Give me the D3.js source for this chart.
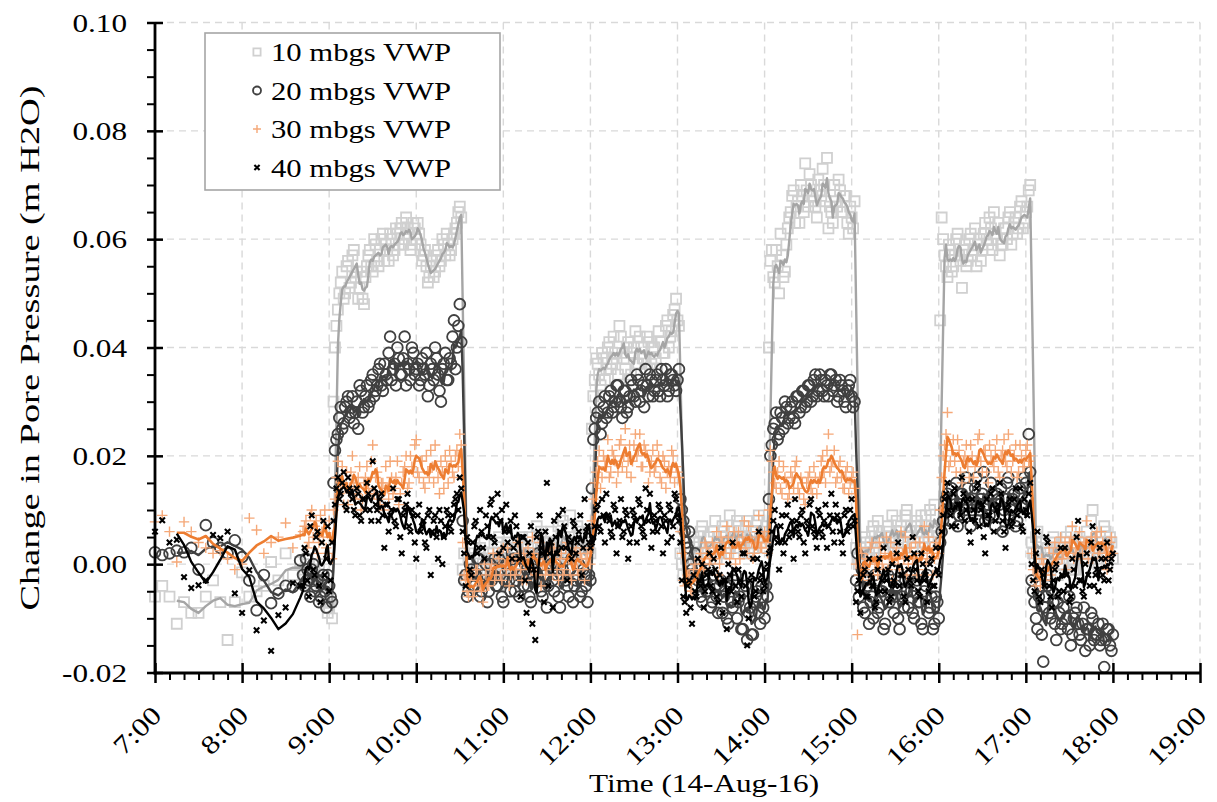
<!DOCTYPE html>
<html>
<head>
<meta charset="utf-8">
<script src="https://cdn.jsdelivr.net/npm/d3@7"></script>
<style>
body { margin: 0; background: #fff; }
text { font-family: "Liberation Serif", "Times New Roman", serif; fill: #000; }
</style>
</head>
<body>
<svg id="chart" width="1217" height="802"></svg>
<script>
// times are minutes after 7:00 on 14-Aug-16
// logger read every 5 min early in the day, every minute from 8:42 on
// (the dense part is kept as two arrays: even minutes and odd minutes)
var earlyStart = 0, earlyStep = 5;
var evenStart = 102, oddStart = 103, denseStep = 2;

var seriesNames = ["10 mbgs VWP", "20 mbgs VWP", "30 mbgs VWP", "40 mbgs VWP"];
var hourLabels = ["7:00", "8:00", "9:00", "10:00", "11:00", "12:00", "13:00",
                  "14:00", "15:00", "16:00", "17:00", "18:00", "19:00"];
var yTicks = [-0.02, 0.00, 0.02, 0.04, 0.06, 0.08, 0.10];

// 7:00 - 8:40
var vwp10Early = [-.006, -.004, -.006, -.011, -.007, -.009, -.009, -.006, -.003, -.007, -.014,
                  -.007, -.0015, -.006, -.005, -.004, .0004, -.003, .002, -.002, .0004];
var vwp20Early = [.0022, .0017, .002, .0025, .0022, .003, -.001, .0072, .004, .003, .002,
                  .0044, .0013, -.003, -.0085, -.002, -.0072, -.0054, -.004, -.0042, .0007];
var vwp30Early = [.0078, .009, .006, .0004, .0078, .006, .004, .003, .002, .0025, .001,
                  -.001, .000, .0085, .0063, .002, .004, .005, .0076, .003, .0054];
var vwp40Early = [.006, .0081, .004, .0045, -.0024, -.0044, -.0039, -.003, .0054, .0048, .006,
                  -.0054, -.009, -.0011, -.0122, -.0104, -.016, -.0094, -.008, -.0035, -.004];

// 8:42 - 18:00, even minutes
var vwp10Even = [
  -.001, .000, -.002, -.004, -.001, -.003, -.005, -.002, -.006, -.008, -.010,
  .040, .047, .052, .049, .055, .051, .057, .053, .049, .054,
  .048, .055, .058, .054, .059, .055, .060, .056, .058, .061,
  .057, .062, .059, .063, .060, .062, .058, .063, .060, .061,
  .056, .058, .052, .055, .053, .057, .055, .060, .057, .059,
  .058, .061, .063, .066,
  -.001, -.003, .001, -.002, .002, -.001, .003, .000, -.003, .002,
  .001, -.002, .004, .001, -.001, .003, .000, .002, -.002, .004,
  .001, .003, -.001, .005, .002, .000, .003, .006, .001, .002,
  .004, -.001, .003, .007, .002, .005, .001, .009, .004, .002,
  .006, .003, .001, .004, .002,
  .031, .038, .035, .039, .034, .040, .036, .042, .038, .044,
  .039, .036, .041, .035, .040, .037, .042, .038, .036, .041,
  .037, .040, .036, .041, .039, .044, .040, .043, .047, .045,
  .002, -.002, .001, .003, .000, .004, .002, .006, .003, .001,
  .005, .003, .008, .004, .002, .006, .003, .009, .005, .003,
  .007, .004, .002, .008, .005, .003, .006, .009, .004, .006,
  .005,
  .056, .053, .058, .050, .057, .054, .062, .065, .069, .066,
  .063, .068, .074, .066, .070, .067, .064, .069, .073, .067,
  .062, .065, .070, .066, .069, .065, .068, .061, .064, .067,
  .001, .003, -.001, .004, .002, .006, .003, .008, .005, .002,
  .006, .004, .009, .005, .003, .007, .004, .010, .006, .003,
  .007, .005, .009, .004, .006, .010, .005, .007, .004,
  .064, .057, .053, .058, .055, .060, .057, .051, .059, .056,
  .061, .058, .055, .060, .058, .063, .059, .062, .065, .060,
  .057, .059, .062, .064, .059, .063, .061, .066, .062, .065,
  .069,
  .004, .001, .006, .002, -.001, .003, .000, .004, .002, -.002,
  .003, .001, .005, .000, .003, -.001, .002, .004, .001, .006,
  .002, .010, .003, .000, .004, .007, .002, .005, .001
];
var vwp20Even = [
  -.002, .001, -.003, -.001, -.005, -.003, -.006, -.002, -.008, -.004, -.007,
  .021, .024, .029, .026, .030, .027, .031, .028, .025, .032,
  .029, .033, .030, .035, .032, .036, .033, .037, .034, .042,
  .036, .033, .038, .035, .042, .037, .034, .039, .036, .033,
  .038, .035, .031, .037, .034, .038, .032, .036, .039, .034,
  .037, .045, .040, .048,
  .008, -.002, -.005, -.001, -.004, .001, -.006, -.002, .000, -.005,
  -.003, .001, -.004, -.001, -.007, .000, -.003, .002, -.005, -.002,
  .001, -.004, -.001, -.006, .000, -.003, .002, -.005, -.002, -.008,
  .001, -.003, .000, -.006, -.002, .002, -.004, -.001, -.007, -.003,
  .000, -.005, -.002, -.007, -.003,
  .023, .027, .030, .026, .031, .028, .032, .029, .033, .030,
  .027, .032, .029, .034, .031, .035, .030, .033, .036, .031,
  .034, .032, .035, .031, .034, .036, .032, .035, .033, .034,
  .012, .008, .004, .006, -.001, .002, -.003, -.006, -.002, -.005,
  -.001, -.007, -.004, -.009, -.003, -.006, -.010, -.004, -.008, -.002,
  -.007, -.012, -.005, -.014, -.008, -.013, -.006, -.009, -.004, -.010,
  -.006,
  .020, .025, .028, .024, .027, .030, .026, .029, .027, .031,
  .028, .032, .029, .033, .030, .034, .031, .035, .032, .034,
  .031, .035, .033, .030, .034, .032, .029, .033, .031, .030,
  .002, -.004, -.008, -.003, -.011, -.006, -.002, -.009, -.005, -.012,
  -.004, -.007, -.001, -.006, -.010, -.003, -.008, -.005, -.002, -.009,
  -.004, -.007, -.011, -.005, -.002, -.008, -.012, -.006, -.010,
  .006, .010, .013, .008, .012, .015, .009, .013, .010, .014,
  .007, .011, .016, .010, .013, .008, .012, .015, .009, .013,
  .011, .006, .012, .016, .010, .013, .008, .014, .011, .015,
  .024,
  -.003, -.007, -.012, -.004, -.018, -.006, -.009, -.005, -.011, -.007,
  -.012, -.008, -.010, -.006, -.013, -.009, -.011, -.014, -.008, -.012,
  -.015, -.010, -.013, -.011, -.014, -.019, -.012, -.015, -.013
];
var vwp30Even = [
  .006, .008, .004, .010, .007, .002, .009, .005, .003, .008, .001,
  .012, .019, .015, .011, .017, .014, .020, .012, .016, .010,
  .015, .018, .013, .022, .016, .012, .015, .010, .014, .019,
  .013, .016, .011, .015, .018, .014, .020, .017, .023, .016,
  .019, .014, .017, .021, .015, .018, .013, .017, .020, .015,
  .019, .016, .021, .024,
  .004, -.003, -.006, -.002, -.005, -.001, -.004, -.007, -.002, -.004,
  .000, -.003, .002, -.002, .003, -.001, -.004, .001, -.002, .004,
  -.001, .002, -.003, .000, .005, -.002, .001, -.004, .002, -.001,
  .003, -.002, .001, -.003, .002, -.001, .004, -.002, .000, .003,
  -.002, .001, -.003, .002, .000,
  .012, .017, .021, .016, .019, .023, .017, .020, .015, .022,
  .018, .025, .019, .016, .022, .020, .024, .018, .021, .015,
  .019, .017, .022, .016, .020, .014, .018, .021, .015, .017,
  .006, -.003, -.006, -.002, -.005, .000, -.003, .002, -.001, .003,
  .000, .004, .001, -.002, .005, .002, .007, .001, .004, .000,
  .006, .003, .008, .002, .005, .001, .004, .009, .003, .006,
  .002,
  .021, .017, .014, .019, .013, .016, .012, .017, .014, .019,
  .013, .015, .011, .016, .014, .018, .013, .016, .020, .015,
  .024, .018, .021, .016, .019, .014, .017, .013, .016, .014,
  -.013, .003, -.002, .001, -.003, .004, .000, -.002, .003, -.001,
  .005, .001, -.003, .002, .000, .006, .001, -.002, .003, .000,
  .004, -.001, .002, .007, .001, .003, -.002, .004, .002,
  .016, .022, .028, .019, .023, .017, .021, .015, .020, .018,
  .022, .016, .019, .024, .017, .021, .015, .020, .018, .023,
  .016, .021, .019, .024, .017, .020, .016, .022, .018, .021,
  .019,
  .002, -.003, -.001, -.004, .000, -.002, .003, -.001, .004, .001,
  .005, .002, -.001, .004, .007, .002, .005, .001, .004, .008,
  .003, .001, .005, .002, .006, .003, -.001, .004, .002
];
var vwp40Even = [
  -.004, .002, -.006, .009, -.002, .006, -.007, .008, .001, -.005, .004,
  .011, .016, .013, .017, .010, .014, .012, .009, .013, .008,
  .012, .015, .010, .019, .011, .008, .013, .003, .011, .009,
  .014, .007, .012, .002, .010, .013, .006, .009, .001, .011,
  .007, .004, .009, -.002, .008, .005, .010, .000, .007, .009,
  .006, .011, .013, .016,
  .006, -.004, .004, -.002, .007, .002, .010, .003, .009, .005,
  .012, .004, .013, .008, .003, .011, .006, .001, .009, .004,
  -.006, .005, -.009, .002, -.011, -.014, .006, .003, -.007, .015,
  .002, -.008, .005, .009, .003, .007, -.003, .004, .008, .002,
  .006, -.002, .012, .007, .003,
  .005, .010, .007, .012, .004, .009, .006, .011, .002, .008,
  .005, .010, .001, .007, .009, .004, .011, .006, .014, .008,
  .003, .009, .006, .010, .002, .008, .011, .005, .013, .009,
  .004, -.006, -.009, -.003, -.011, -.005, .001, -.004, -.008, -.002,
  .002, -.005, -.001, -.007, .003, -.003, -.012, -.002, .004, -.004,
  -.001, -.006, .002, -.015, -.003, .001, -.005, .006, -.002, -.004,
  .000,
  .003, .008, .005, -.001, .009, .004, .011, .006, .001, .008,
  .005, .010, .002, .007, .012, .006, .003, .009, .005, .011,
  .007, .013, .004, .009, .006, .002, .010, .007, .012, .008,
  -.005, -.009, -.002, -.006, .001, -.004, -.008, -.001, -.005, .003,
  -.003, -.007, .000, -.004, .004, -.002, -.006, .001, -.003, .005,
  -.001, -.005, .002, -.003, -.007, .000, -.004, .003, -.002,
  .006, .012, .015, .009, .013, .007, .011, .016, .008, .012,
  .004, .010, .014, .007, .011, .002, .009, .013, .006, .010,
  .015, .008, .003, .011, .007, .012, .009, .014, .006, .010,
  .013,
  .000, -.005, .006, -.007, -.002, .005, -.004, -.008, -.001, -.006,
  .003, -.005, -.002, -.007, .001, -.004, .008, -.003, -.006, .002,
  -.004, .007, -.002, -.005, .001, -.003, .004, -.001, .002
];

// 8:43 - 17:59, odd minutes
var vwp10Odd = [
  -.002, .001, -.003, -.002, -.004, .000, -.006, -.004, -.009, -.007,
  .030,
  .044, .050, .054, .050, .056, .052, .058, .054, .051, .049,
  .053, .057, .055, .060, .056, .058, .061, .059, .056, .060,
  .058, .061, .062, .059, .064, .061, .059, .062, .063, .059,
  .057, .055, .053, .056, .054, .058, .056, .059, .061, .057,
  .060, .062, .065, .064,
  .002, -.002, .000, .003, -.003, .001, -.001, .004, .001, -.002,
  .002, .000, .005, -.001, .002, .004, -.002, .001, .003, .000,
  .005, .002, -.001, .003, .001, .007, .002, .004, -.001, .003,
  .006, .002, .000, .004, .008, .003, .001, .005, .002, .007,
  .003, .000, .005, .003,
  .025,
  .034, .037, .033, .038, .036, .041, .037, .039, .035, .042,
  .038, .040, .034, .039, .043, .037, .040, .038, .042, .036,
  .040, .038, .043, .041, .039, .045, .042, .046, .049, .044,
  .000, .003, -.001, .002, .005, .001, .004, .007, .002, .005,
  .003, .006, .001, .004, .007, .005, .002, .006, .004, .008,
  .003, .005, .007, .002, .006, .004, .008, .005, .003, .007,
  .040,
  .058, .052, .055, .061, .053, .059, .064, .068, .063, .067,
  .070, .065, .069, .072, .068, .066, .071, .068, .070, .075,
  .066, .063, .067, .071, .065, .068, .063, .066, .062,
  .003, .000, .002, .005, .001, .004, .007, .003, .006, .004,
  .002, .007, .005, .003, .008, .006, .004, .009, .005, .007,
  .004, .008, .006, .003, .009, .005, .007, .011, .006,
  .045,
  .060, .055, .059, .054, .057, .061, .056, .058, .055, .060,
  .057, .062, .059, .056, .061, .060, .064, .058, .061, .063,
  .059, .062, .060, .065, .061, .064, .062, .067, .063, .066,
  .070,
  .002, .005, .000, .004, .001, .003, -.002, .005, .001, .003,
  .000, .004, .002, .006, -.001, .003, .005, .001, .004, .002,
  .008, .003, .001, .005, .002, .006, .003, .004
];
var vwp20Odd = [
  -.004, -.001, -.006, .000, -.004, -.007, -.003, -.005, -.002, -.006,
  .015,
  .023, .027, .025, .029, .031, .028, .026, .030, .033, .028,
  .031, .029, .034, .031, .033, .037, .032, .035, .039, .034,
  .037, .040, .035, .038, .033, .036, .040, .035, .037, .034,
  .036, .039, .033, .036, .040, .035, .030, .037, .034, .038,
  .042, .036, .044, .041,
  -.003, -.006, .000, -.004, -.002, .001, -.005, -.003, -.007, .000,
  -.002, -.004, .001, -.006, -.003, -.001, -.005, .001, -.003, -.006,
  -.002, .000, -.004, -.007, -.001, -.003, .001, -.006, -.002, -.004,
  .000, -.005, -.002, -.008, -.001, -.003, -.006, .001, -.004, -.002,
  -.006, -.001, -.004, -.002,
  .014,
  .025, .028, .024, .029, .027, .031, .028, .030, .033, .029,
  .032, .028, .031, .033, .030, .034, .032, .029, .033, .035,
  .031, .034, .032, .036, .033, .031, .035, .034, .032, .036,
  .010, .006, .003, .000, -.002, -.004, -.001, -.007, -.003, -.005,
  -.008, -.002, -.006, -.004, -.009, -.005, -.011, -.007, -.003, -.010,
  -.006, -.012, -.004, -.009, -.013, -.007, -.005, -.011, -.008, -.004,
  .012,
  .022, .026, .023, .028, .025, .029, .027, .030, .026, .031,
  .029, .032, .030, .033, .031, .035, .032, .034, .031, .033,
  .035, .032, .034, .031, .033, .030, .032, .034, .029,
  -.003, -.006, -.001, -.009, -.004, -.007, -.010, -.003, -.008, -.005,
  -.011, -.002, -.006, -.009, -.004, -.012, -.006, -.003, -.008, -.005,
  -.010, -.003, -.007, -.012, -.004, -.009, -.006, -.011, -.007,
  .004,
  .008, .012, .010, .014, .011, .007, .013, .009, .016, .012,
  .010, .014, .008, .012, .017, .011, .009, .013, .007, .012,
  .014, .010, .015, .009, .012, .007, .013, .011, .016, .012,
  .017,
  -.005, -.010, -.006, -.013, -.008, -.004, -.010, -.007, -.014, -.009,
  -.011, -.006, -.012, -.015, -.010, -.008, -.013, -.011, -.016, -.012,
  -.009, -.014, -.013, -.015, -.011, -.014, -.012, -.016
];
var vwp30Odd = [
  .007, .003, .009, .005, .008, .004, .006, .010, .002, .005,
  .010,
  .016, .013, .018, .014, .011, .017, .015, .013, .018, .012,
  .016, .014, .019, .013, .017, .011, .015, .018, .012, .016,
  .014, .019, .013, .017, .020, .015, .018, .022, .017, .019,
  .015, .020, .016, .018, .022, .016, .019, .014, .018, .021,
  .017, .020, .018, .022,
  -.002, -.005, -.003, -.006, -.001, -.003, -.005, .000, -.004, -.001,
  .002, -.002, .001, -.003, .000, .003, -.002, .001, -.001, .002,
  -.003, .001, .003, -.001, .002, -.002, .004, .000, -.002, .002,
  .000, .003, -.001, .001, -.002, .003, .001, -.003, .002, -.001,
  .002, -.001, .001, .003,
  .008,
  .015, .019, .014, .020, .018, .016, .021, .019, .017, .023,
  .020, .017, .022, .019, .024, .021, .018, .022, .020, .017,
  .021, .018, .020, .015, .019, .017, .016, .020, .018, .016,
  .002, -.004, -.002, -.005, -.001, -.003, .001, .000, .004, .002,
  .001, .003, .006, .000, .004, .003, .005, .002, .006, .004,
  .001, .005, .003, .007, .004, .002, .006, .003, .005, .004,
  .010,
  .019, .015, .017, .014, .018, .015, .013, .016, .018, .014,
  .016, .012, .015, .017, .013, .016, .015, .019, .017, .021,
  .017, .019, .015, .018, .016, .014, .018, .015, .017,
  .000, -.002, .002, -.001, .001, .003, -.002, .001, .004, .000,
  .002, -.001, .004, .001, .003, -.001, .002, .005, .000, .003,
  .001, -.002, .004, .002, .000, .005, .002, .001, .003,
  .010,
  .020, .024, .018, .021, .019, .023, .017, .019, .022, .016,
  .020, .018, .023, .019, .021, .017, .022, .019, .021, .017,
  .020, .023, .018, .021, .019, .022, .017, .020, .018, .022,
  .020,
  -.001, -.004, -.002, .001, -.003, .000, -.002, .002, .000, .003,
  .001, .004, .002, .005, .001, .003, .006, .002, .004, .001,
  .005, .003, .006, .002, .004, .001, .003, .005
];
var vwp40Odd = [
  .003, -.003, .007, -.001, .005, -.004, .004, -.002, .007, -.003,
  .008,
  .014, .012, .015, .011, .016, .013, .010, .014, .009, .012,
  .010, .013, .008, .014, .010, .012, .009, .011, .006, .010,
  .008, .012, .005, .009, .011, .007, .010, .004, .009, .006,
  .008, .003, .010, .006, .009, .001, .008, .005, .010, .007,
  .009, .012, .010, .014,
  .002, .005, -.001, .004, .008, .003, .006, .001, .007, .011,
  .005, .009, .002, .010, .006, .004, .008, .003, .007, .001,
  .005, -.003, .004, .007, -.001, .005, .009, .002, .006, -.004,
  .004, .008, .002, .006, .010, .003, .005, .001, .007, .004,
  .009, .003, .006, .004,
  .004,
  .007, .011, .006, .009, .013, .008, .005, .010, .007, .012,
  .006, .009, .004, .010, .008, .012, .007, .005, .010, .013,
  .006, .008, .011, .007, .009, .004, .010, .007, .012, .008,
  -.003, -.007, -.004, -.008, -.002, -.006, -.003, .000, -.005, -.001,
  -.004, .001, -.006, -.002, -.009, -.003, .000, -.005, -.001, -.007,
  -.003, .002, -.004, -.010, -.002, -.006, .001, -.003, -.005, -.001,
  .002,
  .006, .010, .004, .007, .002, .009, .005, .008, .012, .006,
  .009, .004, .008, .011, .007, .005, .010, .006, .008, .003,
  .009, .006, .011, .008, .004, .009, .006, .010, .007,
  -.007, -.003, -.005, -.001, -.006, -.002, -.004, -.007, .001, -.003,
  -.005, -.001, -.006, -.003, .002, -.004, -.002, -.007, -.001, -.004,
  .002, -.003, -.006, .000, -.002, -.005, .001, -.004, -.001,
  .003,
  .009, .013, .010, .007, .014, .011, .009, .013, .010, .006,
  .012, .008, .015, .010, .005, .012, .009, .014, .008, .011,
  .013, .006, .010, .012, .008, .014, .010, .007, .012, .009,
  .015,
  -.003, .002, -.006, -.001, -.004, .004, -.006, -.003, .000, -.005,
  -.002, .003, -.004, -.006, -.001, .005, -.003, -.005, .000, -.002,
  .004, -.004, -.001, .003, -.002, .001, -.003, .001
];

var svg = d3.select("#chart");
var x = d3.scaleLinear().domain([0, 720]).range([155, 1200]);
var y = d3.scaleLinear().domain([-0.02, 0.10]).range([672.5, 22.5]);
var axisY = 673;

function buildPoints(early, even, odd) {
    var pts = [];
    early.forEach(function(v, i) { pts.push({t: earlyStart + i * earlyStep, v: v}); });
    even.forEach(function(v, i) { pts.push({t: evenStart + i * denseStep, v: v}); });
    odd.forEach(function(v, i) { pts.push({t: oddStart + i * denseStep, v: v}); });
    pts.sort(function(a, b) { return a.t - b.t; });
    return pts;
}

// excel style moving-average trendline, period n
function movingAverage(pts, n) {
    var out = [];
    for (var i = n - 1; i < pts.length; i++) {
        var s = 0;
        for (var j = i - n + 1; j <= i; j++) s += pts[j].v;
        out.push({t: pts[i].t, v: s / n});
    }
    return out;
}

// text helper; the reference font sets wider than Times, so stretch along the baseline
function addText(parent, str, tx, ty, rot, anchor, size, k) {
    return parent.append("text")
        .attr("transform", "translate(" + tx + "," + ty + ") rotate(" + rot + ") scale(" + k + ",1)")
        .attr("text-anchor", anchor)
        .attr("font-size", size)
        .text(str);
}

var markerPaths = {
    square: function(s) { return "M" + (-s) + "," + (-s) + "h" + (2 * s) + "v" + (2 * s) + "h" + (-2 * s) + "Z"; },
    circle: function(s) { return "M" + (-s) + ",0a" + s + "," + s + " 0 1,0 " + (2 * s) + ",0a" + s + "," + s + " 0 1,0 " + (-2 * s) + ",0"; },
    plus: function(s) { return "M" + (-s) + ",0H" + s + "M0," + (-s) + "V" + s; },
    cross: function(s) { return "M" + (-s) + "," + (-s) + "L" + s + "," + s + "M" + (-s) + "," + s + "L" + s + "," + (-s); }
};

var series = [
    {name: seriesNames[0], pts: buildPoints(vwp10Early, vwp10Even, vwp10Odd), marker: "square", size: 5, legSize: 3.6,
     mColor: "#d0d0d0", mWidth: 1.8, lColor: "#a5a5a5", lWidth: 2.4},
    {name: seriesNames[1], pts: buildPoints(vwp20Early, vwp20Even, vwp20Odd), marker: "circle", size: 5.4, legSize: 4,
     mColor: "#404040", mWidth: 1.8, lColor: "#404040", lWidth: 2.4},
    {name: seriesNames[2], pts: buildPoints(vwp30Early, vwp30Even, vwp30Odd), marker: "plus", size: 5.2, legSize: 4,
     mColor: "#f5a878", mWidth: 1.4, lColor: "#ed7d31", lWidth: 2.6},
    {name: seriesNames[3], pts: buildPoints(vwp40Early, vwp40Even, vwp40Odd), marker: "cross", size: 2.7, legSize: 2.6,
     mColor: "#000000", mWidth: 2.1, lColor: "#000000", lWidth: 2.4}
];

// gridlines
var grid = svg.append("g");
grid.selectAll(".vg").data(d3.range(60, 721, 60)).join("line")
    .attr("x1", function(d) { return x(d); }).attr("x2", function(d) { return x(d); })
    .attr("y1", y(0.10)).attr("y2", y(-0.02))
    .attr("stroke", "#d9d9d9").attr("stroke-width", 1.4).attr("stroke-dasharray", "7,5");
grid.selectAll(".hg").data(yTicks.slice(1)).join("line")
    .attr("x1", x(0)).attr("x2", x(720))
    .attr("y1", function(d) { return y(d); }).attr("y2", function(d) { return y(d); })
    .attr("stroke", "#d9d9d9").attr("stroke-width", 1.4).attr("stroke-dasharray", "7,5");

// data
var line = d3.line().x(function(d) { return x(d.t); }).y(function(d) { return y(d.v); });
series.forEach(function(s) {
    var g = svg.append("g");
    g.selectAll("path.m").data(s.pts).join("path")
        .attr("class", "m")
        .attr("transform", function(d) { return "translate(" + x(d.t) + "," + y(d.v) + ")"; })
        .attr("d", markerPaths[s.marker](s.size))
        .attr("fill", "none").attr("stroke", s.mColor).attr("stroke-width", s.mWidth);
    g.append("path").datum(movingAverage(s.pts, 4))
        .attr("d", line).attr("fill", "none")
        .attr("stroke", s.lColor).attr("stroke-width", s.lWidth).attr("stroke-linejoin", "round");
});

// y axis
var minorY = d3.range(-0.02, 0.1001, 0.005).filter(function(d) { return Math.abs(d / 0.02 - Math.round(d / 0.02)) > 0.01; });
var yAxisG = svg.append("g").attr("transform", "translate(" + x(0) + ",0)");
yAxisG.append("g").call(d3.axisLeft(y).tickValues(minorY).tickSize(8).tickFormat(""))
    .call(function(g) { g.select(".domain").remove(); g.selectAll("line").attr("stroke-width", 2); });
yAxisG.append("g").call(d3.axisLeft(y).tickValues(yTicks).tickSize(-8).tickFormat(""))
    .call(function(g) { g.select(".domain").remove(); g.selectAll("line").attr("stroke-width", 2.5); });
yAxisG.append("g").call(d3.axisLeft(y).tickValues(yTicks).tickSize(8).tickFormat(""))
    .call(function(g) { g.select(".domain").remove(); g.selectAll("line").attr("stroke-width", 2.5); });
yAxisG.append("line").attr("x1", 0).attr("x2", 0).attr("y1", y(0.10)).attr("y2", axisY + 1.5)
    .attr("stroke", "#000").attr("stroke-width", 2.8);
yTicks.forEach(function(d) {
    addText(yAxisG, d.toFixed(2), -28, y(d) + 9, 0, "end", 26, 1.2);
});

// x axis
var minorX = d3.range(0, 721, 10).filter(function(d) { return d % 60 !== 0; });
var xAxisG = svg.append("g").attr("transform", "translate(0," + axisY + ")");
xAxisG.append("g").call(d3.axisBottom(x).tickValues(minorX).tickSize(7).tickFormat(""))
    .call(function(g) { g.select(".domain").remove(); g.selectAll("line").attr("stroke-width", 2); });
xAxisG.append("g").call(d3.axisBottom(x).tickValues(d3.range(0, 721, 60)).tickSize(-10).tickFormat(""))
    .call(function(g) { g.select(".domain").remove(); g.selectAll("line").attr("stroke-width", 2.5); });
xAxisG.append("g").call(d3.axisBottom(x).tickValues(d3.range(0, 721, 60)).tickSize(10).tickFormat(""))
    .call(function(g) { g.select(".domain").remove(); g.selectAll("line").attr("stroke-width", 2.5); });
xAxisG.append("line").attr("x1", x(0) - 1.4).attr("x2", x(720)).attr("y1", 0).attr("y2", 0)
    .attr("stroke", "#000").attr("stroke-width", 2.8);
hourLabels.forEach(function(d, i) {
    addText(xAxisG, d, x(i * 60) + 8, 44, -45, "end", 26, 1.2);
});

// axis titles
addText(svg, "Time (14-Aug-16)", 704, 792, 0, "middle", 26, 1.2);
addText(svg, "Change in Pore Pressure (m H2O)", 39, 348, -90, "middle", 28, 1.37);

// legend
var legend = svg.append("g");
legend.append("rect").attr("x", 205).attr("y", 33).attr("width", 295).attr("height", 157)
    .attr("fill", "#fff").attr("stroke", "#a6a6a6").attr("stroke-width", 1.6);
series.forEach(function(s, i) {
    var cy = 52 + i * 38.5;
    legend.append("path")
        .attr("transform", "translate(257," + cy + ")")
        .attr("d", markerPaths[s.marker](s.legSize))
        .attr("fill", "none").attr("stroke", s.mColor).attr("stroke-width", s.mWidth);
    addText(legend, s.name, 271, cy + 9, 0, "start", 26, 1.18);
});
</script>
</body>
</html>
